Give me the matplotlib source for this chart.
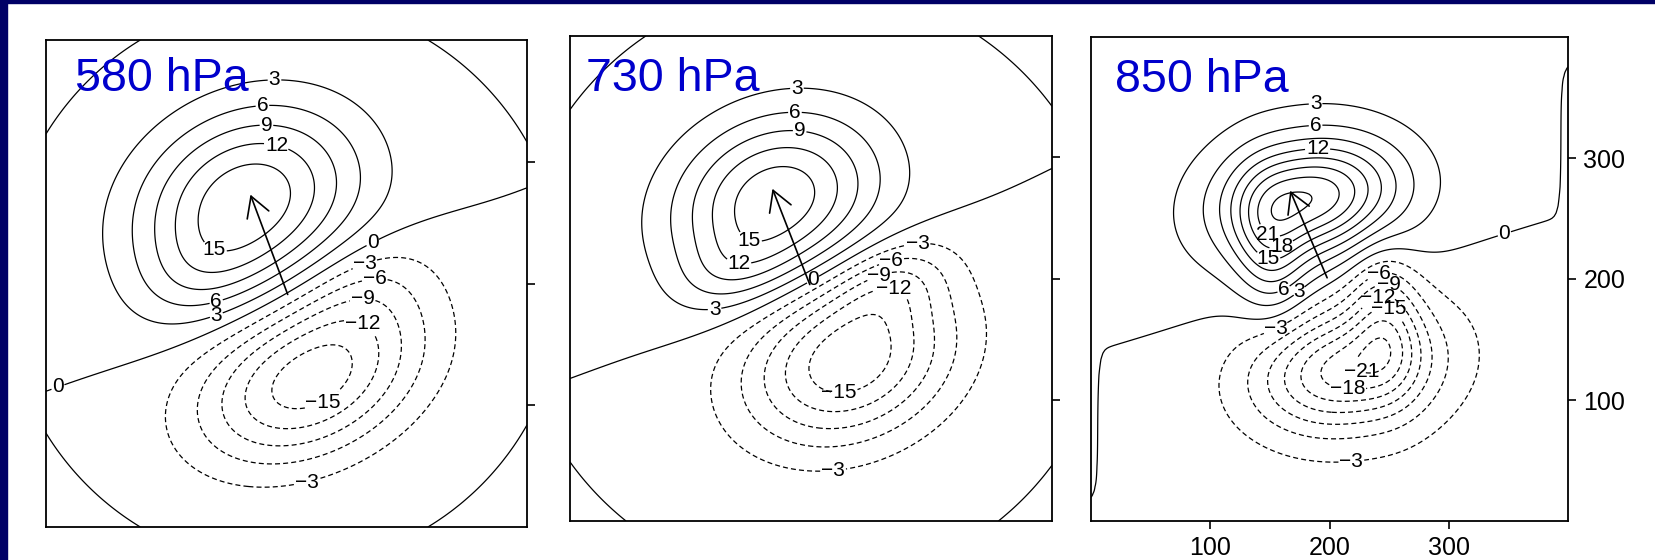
import numpy as np
import matplotlib.pyplot as plt
from matplotlib.patches import Rectangle

plt.rcParams['font.family'] = ['Liberation Sans', 'DejaVu Sans']

panel_titles = ['580 hPa', '730 hPa', '850 hPa']

# field pieces per level: amplitude, x0, y0, sigma along axis, sigma across, axis angle (deg)
lobes_580 = [(17.5, 167, 268, 68, 52, 25), (-17.0, 219, 121, 70, 44, 25),
             (-3.5, 265, 196, 42, 30, 25), (3.0, 128, 205, 40, 28, 25)]
lobes_730 = [(17.5, 171, 265, 62, 48, 22), (-17.5, 231, 133, 64, 47, 22),
             (-5.0, 268, 197, 35, 22, 22), (3.5, 135, 205, 35, 22, 22)]
lobes_850 = [(17.0, 187, 268, 47, 30, 10), (8.0, 150, 225, 40, 20, 95), (7.0, 178, 255, 75, 60, 10),
             (-13.0, 210, 124, 47, 30, 10), (-9.0, 247, 167, 40, 20, 95), (-7.0, 219, 137, 75, 60, 10)]
# centre and radius where the far field changes sign (corner arcs), None = no flip
flip_centre = [(198, 200), (201, 194), None]
flip_radius = [233, 248, None]
# edge term strength for 850 hPa wrap-around
edge_amp = [0.0, 0.0, 1.0]

arrow_tail = [(201, 191), (199, 195), (198, 201)]
arrow_tip = [(170, 273), (168, 274), (167, 273)]

# contour labels: value, x, y
labels_580 = [(3, 190, 370), (6, 180, 345), (9, 184, 330), (12, 192, 313), (15, 143, 237),
              (6, 140, 191), (3, 140, 178), (0, 271, 237), (-3, 262, 223), (-6, 272, 211),
              (-9, 262, 199), (-12, 272, 185), (-15, 229, 106), (-3, 216, 38), (0, 9, 117)]
labels_730 = [(3, 188, 362), (6, 187, 335), (9, 190, 316), (12, 141, 219), (15, 151, 237),
              (3, 120, 178), (0, 200, 201), (-3, 289, 224), (-6, 268, 212), (-9, 258, 201),
              (-12, 267, 185), (-15, 224, 116), (-3, 218, 37)]
labels_850 = [(3, 189, 350), (6, 189, 325), (12, 190, 301), (21, 147, 235), (18, 162, 219),
              (15, 145, 205), (6, 168, 178), (3, 192, 166), (-3, 155, 157), (0, 348, 234),
              (-6, 236, 228), (-9, 254, 216), (-12, 234, 204), (-15, 256, 192), (-21, 228, 126),
              (-18, 216, 114), (-3, 219, 49)]
panel_labels = [labels_580, labels_730, labels_850]

ticks = [100, 200, 300]
levels = np.arange(-24, 27, 3)

x = np.linspace(0, 400, 241)
X, Y = np.meshgrid(x, x)


def build_field(lobes, centre, r0, eamp):
    F = np.zeros_like(X)
    for amp, x0, y0, su, sv, ang in lobes:
        t = np.deg2rad(ang)
        u = (X - x0) * np.cos(t) + (Y - y0) * np.sin(t)
        v = -(X - x0) * np.sin(t) + (Y - y0) * np.cos(t)
        F += amp * np.exp(-0.5 * ((u / su) ** 2 + (v / sv) ** 2))
    if r0 is not None:
        R = np.hypot(X - centre[0], Y - centre[1])
        F *= 1 - (R / r0) ** 6
    if eamp:
        e = np.maximum(np.abs(X - 200), np.abs(Y - 200)) / 200.0
        F += eamp * np.tanh(((Y - 196) - 0.895 * (X - 198.5)) / 60.0) * e ** 80
    return F


def snap(cs, val, px, py):
    # nearest point on the contour line of the wanted level
    idx = int(np.argmin(np.abs(np.asarray(cs.levels) - val)))
    best, bd = (px, py), np.inf
    for seg in cs.allsegs[idx]:
        if len(seg) == 0:
            continue
        d = np.hypot(seg[:, 0] - px, seg[:, 1] - py)
        k = int(np.argmin(d))
        if d[k] < bd:
            bd, best = d[k], (seg[k, 0], seg[k, 1])
    return best


def fmt(v):
    s = '%d' % abs(v)
    return ('\u2212' + s) if v < 0 else s


fig = plt.figure(figsize=(16.55, 5.6), dpi=100)
fig.patches.append(Rectangle((0, 0), 7 / 1655, 1, transform=fig.transFigure,
                             color='#000066', zorder=0))
fig.patches.append(Rectangle((0, 1 - 3 / 560), 1, 3 / 560, transform=fig.transFigure,
                             color='#000066', zorder=0))

# axes boxes in pixels: left, right, top, bottom
boxes = [(46, 527, 40, 527), (570, 1052, 36, 521), (1091, 1568, 37, 521)]
fields = [lobes_580, lobes_730, lobes_850]

for i, (l, r, t, b) in enumerate(boxes):
    ax = fig.add_axes([l / 1655, 1 - b / 560, (r - l) / 1655, (b - t) / 560])
    ax.set_xlim(0, 400)
    ax.set_ylim(0, 400)
    F = build_field(fields[i], flip_centre[i], flip_radius[i], edge_amp[i])
    cs = ax.contour(X, Y, F, levels=levels, colors='k', linewidths=0.9,
                    negative_linestyles=(0, (4, 2.5)))
    pts = [snap(cs, val, lx, ly) for val, lx, ly in panel_labels[i]]
    ax.clabel(cs, manual=pts, fmt=fmt, fontsize=15, inline=True, inline_spacing=1)
    for tx in cs.labelTexts:
        tx.set_rotation(0)
    ax.annotate('', xy=arrow_tip[i], xytext=arrow_tail[i],
                arrowprops=dict(arrowstyle='->,head_length=0.4,head_width=0.23',
                                lw=1.2, color='k', mutation_scale=36,
                                shrinkA=0, shrinkB=0))
    for sp in ax.spines.values():
        sp.set_linewidth(1.3)
    ax.yaxis.tick_right()
    ax.set_yticks(ticks)
    ax.set_xticks(ticks)
    ax.tick_params(direction='out', length=6, width=1.2, labelsize=18, pad=5)
    if i < 2:
        ax.tick_params(axis='x', length=0, labelbottom=False)
        ax.tick_params(axis='y', labelright=False)
    ax.text([0.06, 0.033, 0.05][i], [0.896, 0.887, 0.886][i], panel_titles[i],
            transform=ax.transAxes, fontsize=33.5, color='#0000cc', va='baseline',
            ha='left', zorder=10)

fig.savefig('out.png', dpi=100)
